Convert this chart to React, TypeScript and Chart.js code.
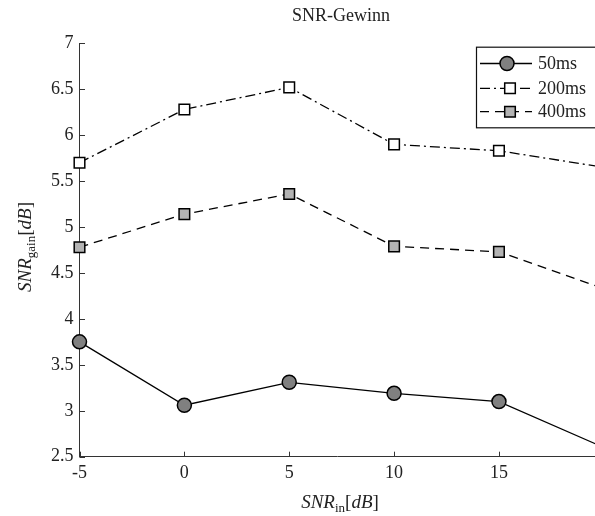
import React, { useEffect, useRef } from "react";
import { Chart, registerables } from "chart.js";

Chart.register(...registerables);

const snrIn = [-5, 0, 5, 10, 15, 20];
const gain50 = [3.75, 3.06, 3.31, 3.19, 3.1, 2.6];
const gain200 = [5.7, 6.28, 6.52, 5.9, 5.83, 5.65];
const gain400 = [4.78, 5.14, 5.36, 4.79, 4.73, 4.33];
const xTickValues = [-5, 0, 5, 10, 15];
const yTickValues = [2.5, 3, 3.5, 4, 4.5, 5, 5.5, 6, 6.5, 7];
const seriesNames = ["50ms", "200ms", "400ms"];
const titleText = "SNR-Gewinn";

const FONT = "'Liberation Serif', 'DejaVu Serif', serif";
const W = 595;
const H = 516;

type Seg = { t: string; f: string; dy?: number };

function drawSegs(ctx: CanvasRenderingContext2D, segs: Seg[], cx: number, baseY: number) {
  let total = 0;
  const widths = segs.map((s) => {
    ctx.font = s.f;
    const w = ctx.measureText(s.t).width;
    total += w;
    return w;
  });
  let x = cx - total / 2;
  ctx.textAlign = "left";
  ctx.textBaseline = "alphabetic";
  segs.forEach((s, i) => {
    ctx.font = s.f;
    ctx.fillText(s.t, x, baseY + (s.dy || 0));
    x += widths[i];
  });
}

const customPlugin = {
  id: "customDecor",
  afterDraw(chart: any) {
    const { ctx, chartArea, scales } = chart;
    const xs = scales.x;
    const ys = scales.y;
    ctx.save();
    // inward tick marks
    ctx.strokeStyle = "#333";
    ctx.lineWidth = 1;
    ctx.beginPath();
    xs.ticks.forEach((t: any) => {
      const px = Math.round(xs.getPixelForValue(t.value)) + 0.5;
      ctx.moveTo(px, chartArea.bottom);
      ctx.lineTo(px, chartArea.bottom - 5);
    });
    ys.ticks.forEach((t: any) => {
      const py = Math.round(ys.getPixelForValue(t.value)) + 0.5;
      ctx.moveTo(chartArea.left, py);
      ctx.lineTo(chartArea.left + 5.5, py);
    });
    ctx.stroke();

    ctx.fillStyle = "#222";
    // title
    drawSegs(ctx, [{ t: titleText, f: `18px ${FONT}` }], 341, 21);

    // x-axis title
    drawSegs(
      ctx,
      [
        { t: "SNR", f: `italic 19px ${FONT}` },
        { t: "in", f: `13px ${FONT}`, dy: 3.5 },
        { t: "[", f: `19px ${FONT}` },
        { t: "dB", f: `italic 19px ${FONT}` },
        { t: "]", f: `19px ${FONT}` },
      ],
      340,
      508
    );

    // y-axis title
    ctx.save();
    ctx.translate(31, 247);
    ctx.rotate(-Math.PI / 2);
    drawSegs(
      ctx,
      [
        { t: "SNR", f: `italic 19px ${FONT}` },
        { t: "gain", f: `13px ${FONT}`, dy: 3.5 },
        { t: "[", f: `19px ${FONT}` },
        { t: "dB", f: `italic 19px ${FONT}` },
        { t: "]", f: `19px ${FONT}` },
      ],
      0,
      0
    );
    ctx.restore();

    // legend
    const lx = 476;
    const ly = 46.7;
    const lw = 130;
    const lh = 80.6;
    ctx.fillStyle = "#fff";
    ctx.fillRect(lx, ly, lw, lh);
    ctx.strokeStyle = "#111";
    ctx.lineWidth = 1.2;
    ctx.strokeRect(lx + 0.5, ly + 0.5, lw, lh);

    const rows = [63.5, 88.3, 111.7];
    chart.data.datasets.forEach((ds: any, i: number) => {
      const y = rows[i];
      ctx.strokeStyle = "#000";
      ctx.lineWidth = 1.3;
      ctx.setLineDash(ds.borderDash || []);
      ctx.beginPath();
      ctx.moveTo(480, y);
      ctx.lineTo(532, y);
      ctx.stroke();
      ctx.setLineDash([]);
      const mx = i === 0 ? 507 : 510;
      ctx.fillStyle = ds.pointBackgroundColor;
      ctx.strokeStyle = "#000";
      ctx.lineWidth = 1.5;
      ctx.beginPath();
      if (ds.pointStyle === "circle") {
        ctx.arc(mx, y, 7, 0, Math.PI * 2);
      } else {
        ctx.rect(mx - 5.3, y - 5.3, 10.6, 10.6);
      }
      ctx.fill();
      ctx.stroke();
      ctx.fillStyle = "#222";
      ctx.font = `18px ${FONT}`;
      ctx.textAlign = "left";
      ctx.textBaseline = "middle";
      ctx.fillText(seriesNames[i], 538, y + 1);
    });
    ctx.restore();
  },
};

export default function App() {
  const ref = useRef<HTMLCanvasElement>(null);
  useEffect(() => {
    document.body.style.margin = "0";
    document.body.style.overflow = "hidden";
    if (!ref.current) return;
    const mk = (data: number[]) => snrIn.map((x, i) => ({ x, y: data[i] }));
    const chart = new Chart(ref.current, {
      type: "line",
      data: {
        datasets: [
          {
            label: seriesNames[0],
            data: mk(gain50),
            borderColor: "#000",
            borderWidth: 1.3,
            pointStyle: "circle",
            pointRadius: 7,
            pointBackgroundColor: "#808080",
            pointBorderColor: "#000",
            pointBorderWidth: 1.5,
            clip: false,
          },
          {
            label: seriesNames[1],
            data: mk(gain200),
            borderColor: "#000",
            borderWidth: 1.3,
            borderDash: [10, 4, 2, 4],
            pointStyle: "rect",
            pointRadius: 7.5,
            pointBackgroundColor: "#ffffff",
            pointBorderColor: "#000",
            pointBorderWidth: 1.5,
            clip: false,
          },
          {
            label: seriesNames[2],
            data: mk(gain400),
            borderColor: "#000",
            borderWidth: 1.3,
            borderDash: [9, 6],
            pointStyle: "rect",
            pointRadius: 7.5,
            pointBackgroundColor: "#b3b3b3",
            pointBorderColor: "#000",
            pointBorderWidth: 1.5,
            clip: false,
          },
        ] as any,
      },
      options: {
        animation: false,
        responsive: false,
        devicePixelRatio: 1,
        layout: { autoPadding: false, padding: { top: 43.3, left: 0, right: 0, bottom: 0 } },
        plugins: {
          legend: { display: false },
          title: { display: false },
          tooltip: { enabled: false },
        },
        scales: {
          x: {
            type: "linear",
            min: -5,
            max: 19.58,
            afterFit: (s: any) => {
              s.height = 59.3;
              s.paddingLeft = 0;
              s.paddingRight = 0;
            },
            afterBuildTicks: (s: any) => {
              s.ticks = xTickValues.map((v) => ({ value: v }));
            },
            ticks: {
              font: { family: FONT, size: 18 },
              color: "#222",
              padding: 6,
              maxRotation: 0,
              autoSkip: false,
              callback: (v: any) => String(v),
            },
            grid: { display: false, drawTicks: false },
            border: { display: true, color: "#333", width: 1 },
          },
          y: {
            type: "linear",
            min: 2.5,
            max: 7,
            afterFit: (s: any) => {
              s.width = 79.5;
              s.paddingTop = 0;
              s.paddingBottom = 0;
            },
            afterBuildTicks: (s: any) => {
              s.ticks = yTickValues.map((v) => ({ value: v }));
            },
            ticks: {
              font: { family: FONT, size: 18 },
              color: "#222",
              padding: 6,
              autoSkip: false,
              callback: (v: any) => String(v),
            },
            grid: { display: false, drawTicks: false },
            border: { display: true, color: "#333", width: 1 },
          },
        },
      },
      plugins: [customPlugin],
    });
    return () => chart.destroy();
  }, []);
  return (
    <div style={{ width: W, height: H, overflow: "hidden" }}>
      <canvas ref={ref} width={W} height={H} style={{ display: "block", width: W, height: H }} />
    </div>
  );
}
